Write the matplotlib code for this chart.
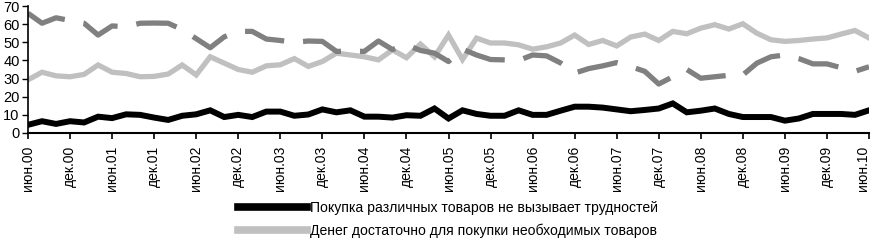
import matplotlib
matplotlib.use("Agg")
import matplotlib.pyplot as plt
import numpy as np
from matplotlib.lines import Line2D
import matplotlib.transforms as mtransforms

plt.rcParams['font.family'] = ['Liberation Sans', 'DejaVu Sans']

# bi-monthly observations, June 2000 .. June 2010
tick_labels = []
for y in range(0, 11):
    tick_labels.append(f"июн.{y:02d}")
    if y < 10:
        tick_labels.append(f"дек.{y:02d}")

black_vals = [4.5, 6.5, 5, 6.5, 5.8, 9, 8.2, 10.3, 10, 8.5,
              7.2, 9.5, 10.3, 12.5, 8.8, 10, 8.8, 11.8, 11.8, 9.5,
              10.2, 13, 11.4, 12.5, 9, 9, 8.5, 9.8, 9.5, 13.5,
              8, 12.5, 10.5, 9.5, 9.5, 12.5, 10, 10, 12.3, 14.5,
              14.5, 14, 13, 12, 12.7, 13.5, 16.3, 11.4, 12.3, 13.5,
              10.5, 8.8, 8.8, 8.8, 6.8, 8, 10.5, 10.5, 10.5, 10, 12.5]

gray_vals = [29.3, 33.5, 31.5, 31, 32.3, 37.5, 33.5, 32.8, 31, 31.2,
             32.5, 37.5, 32, 42, 38.5, 35, 33.5, 37, 37.6, 41,
             36.7, 39.4, 44, 43, 42, 40.3, 45.8, 41.5, 49, 42,
             54, 40.5, 52.3, 49.6, 49.6, 48.6, 46.2, 47.5, 49.6, 54,
             48.8, 51, 48, 52.9, 54.5, 51, 56, 54.7, 57.8, 59.7,
             57.3, 60.2, 55, 51.4, 50.5, 51, 51.8, 52.4, 54.5, 56.5, 52.4]

dashed_vals = [66, 60.5, 63.5, 62, 60.5, 54, 59, 58.6, 60.5, 60.6,
               60.5, 57, 52, 47, 53, 56, 56, 51.8, 51, 50,
               50.7, 50.5, 45, 45, 45, 50.7, 46, 48.6, 45.5, 44,
               39.4, 46.2, 43, 40.5, 40.3, 40, 43, 42.5, 38.6, 33,
               35.5, 37, 38.8, 36.6, 34, 27, 31, 35, 30.2, 31,
               31.8, 32, 38.5, 42, 43, 41, 38.1, 38.1, 36, 34, 36.5]

legend_labels = ["Покупка различных товаров не вызывает трудностей",
                 "Денег достаточно для покупки необходимых товаров"]

x = np.arange(len(black_vals))

fig = plt.figure(figsize=(8.71, 2.40), dpi=100)
ax = fig.add_axes([28/871, 1-133/240, (869-28)/871, (133-6)/240])

ax.plot(x, gray_vals, color='#c0c0c0', lw=3.8, solid_joinstyle='miter')
l3, = ax.plot(x, dashed_vals, color='#808080', lw=3.8)
l3.set_dashes([7.8, 3.6])
ax.plot(x, black_vals, color='black', lw=4.3, solid_joinstyle='miter')

ax.set_xlim(0, len(x)-1)
ax.set_ylim(0, 70)
ax.set_yticks(range(0, 71, 10))
ax.set_xticks(np.arange(0, len(x), 3))
ax.set_xticklabels(tick_labels, rotation=90, fontsize=10)
ax.tick_params(axis='y', labelsize=10.5, length=4, width=1, direction='out', pad=2)
ax.tick_params(axis='x', length=4, width=1.2, direction='out', pad=5)
for s in ['top', 'right']:
    ax.spines[s].set_visible(False)
ax.spines['bottom'].set_linewidth(1.5)
ax.spines['left'].set_linewidth(1.2)

# keep the last tick label inside the figure
last = ax.get_xticklabels()[-1]
last.set_transform(last.get_transform() +
                   mtransforms.ScaledTranslation(-6/100, 0, fig.dpi_scale_trans))

h1 = Line2D([], [], color='black', lw=5.5)
h2 = Line2D([], [], color='#c0c0c0', lw=5.5)
fig.legend([h1, h2], legend_labels, loc='upper left',
           bbox_to_anchor=(238/871, 1-201/240), frameon=False,
           fontsize=10.1, handlelength=4.9, handletextpad=0.2,
           labelspacing=0.6, borderpad=0, borderaxespad=0)

fig.savefig("out.png", dpi=100)
